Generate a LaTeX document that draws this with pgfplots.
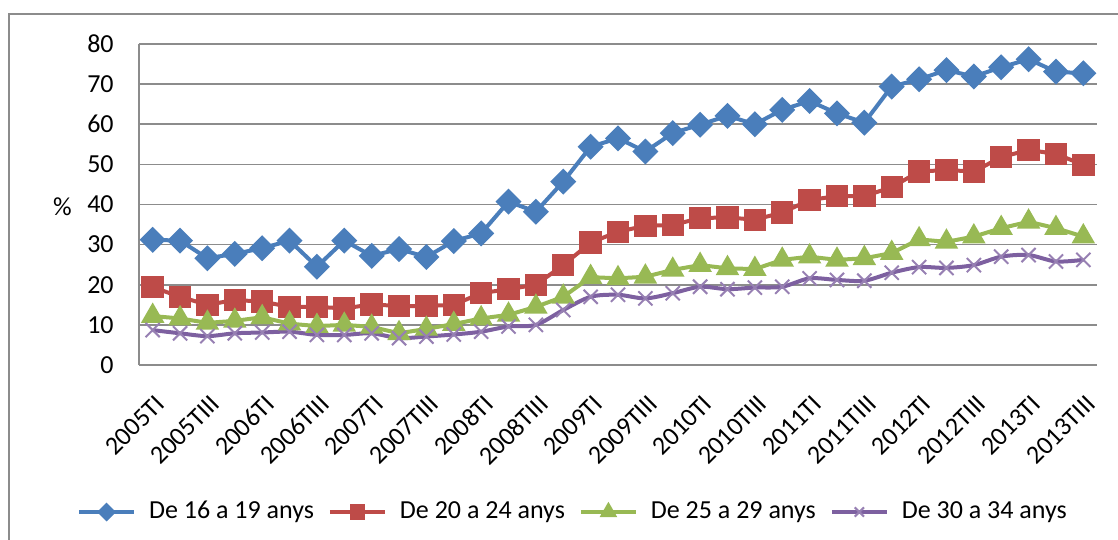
\documentclass[border=0pt]{standalone}
\usepackage{fontspec}
\setmainfont{Carlito}
\usepackage{pgfplots}
\pgfplotsset{compat=1.18}
\usepackage{pgfplotstable}
\definecolor{cblue}{HTML}{4A7EBB}
\definecolor{cred}{HTML}{BE4B48}
\definecolor{cgreen}{HTML}{98B954}
\definecolor{cpurple}{HTML}{7D60A0}
\definecolor{cgrid}{HTML}{8C8C8C}
\pgfplotstableread{
i a b c d
0 31.2 19.4 12.2 8.7
1 31.0 17.0 11.6 7.9
2 26.6 15.0 10.5 7.2
3 27.7 16.2 11.0 7.9
4 29.1 15.8 11.9 8.1
5 31.0 14.5 10.3 8.3
6 24.5 14.5 9.7 7.5
7 31.0 14.1 10.0 7.5
8 27.2 15.1 9.5 7.9
9 28.9 14.7 7.9 6.7
10 26.9 14.7 9.0 7.1
11 30.9 15.0 10.2 7.6
12 32.8 17.9 11.6 8.3
13 40.7 18.9 12.5 9.6
14 38.2 20.0 14.5 10.0
15 45.7 24.9 17.0 13.7
16 54.4 30.5 21.9 17.0
17 56.5 33.2 21.6 17.5
18 53.2 34.7 22.0 16.6
19 57.8 34.9 23.7 17.9
20 59.9 36.6 24.9 19.5
21 62.1 36.8 24.1 18.9
22 60.0 36.2 23.9 19.3
23 63.6 38.0 26.2 19.5
24 65.8 41.1 27.0 21.6
25 62.7 42.1 26.2 21.2
26 60.4 42.1 26.6 21.0
27 69.4 44.3 27.9 23.0
28 71.2 48.2 31.3 24.4
29 73.5 48.6 30.7 24.2
30 71.9 48.2 32.0 24.9
31 74.2 51.8 34.1 27.0
32 76.2 53.6 35.7 27.4
33 73.1 52.6 34.1 25.8
34 72.7 49.9 32.0 26.2
}\data
\begin{document}
\fontsize{13}{15}\selectfont
\begin{tikzpicture}
\useasboundingbox (-69.5pt,-87.5pt) rectangle (489.5pt,182.5pt);
\draw[cgrid, line width=1pt] (-65pt,-120pt) rectangle (520pt,175.5pt);
\begin{axis}[
  at={(0,0)}, anchor=south west,
  scale only axis, width=479pt, height=160.5pt,
  xmin=-0.5, xmax=34.5, ymin=0, ymax=80,
  ytick={0,10,...,80},
  xtick={0,2,...,34},
  xticklabels={2005TI,2005TIII,2006TI,2006TIII,2007TI,2007TIII,2008TI,2008TIII,2009TI,2009TIII,2010TI,2010TIII,2011TI,2011TIII,2012TI,2012TIII,2013TI,2013TIII},
  xticklabel style={xshift=7pt, yshift=-12pt, rotate=45, anchor=east, font=\fontsize{13}{15}\selectfont},
  yticklabel style={font=\fontsize{13}{15}\selectfont, xshift=-6pt},
  /pgf/number format/assume math mode=true,
  axis x line=bottom, axis y line=left,
  axis line style={-, cgrid, line width=0.8pt},
  ymajorgrids, grid style={cgrid, line width=0.8pt},
  tick style={draw=none},
  ylabel={\%},
  ylabel style={rotate=-90, at={(axis description cs:-0.080,0.492)}, anchor=center, font=\fontsize{13}{15}\selectfont},
  clip=false,
  legend columns=4,
  legend style={at={(axis description cs:0.454,-0.458)}, anchor=center, draw=none, fill=none,
    font=\fontsize{13}{15}\selectfont,
    /tikz/every odd column/.append style={column sep=4.5pt},
    /tikz/every even column/.append style={column sep=5pt}},
  legend image code/.code={\draw[mark repeat=2, mark phase=2, #1, every mark/.append style={scale=0.65}] plot coordinates {(0pt,0pt) (13.75pt,0pt) (27.5pt,0pt)};},
]
\addplot[cblue, line width=2pt, mark=square*, mark size=3.6pt, mark options={rotate=45, solid}] table[x=i, y=a] {\data};
\addlegendentry{De 16 a 19 anys}
\addplot[cred, line width=2pt, mark=square*, mark size=4.6pt, mark options={solid}] table[x=i, y=b] {\data};
\addlegendentry{De 20 a 24 anys}
\addplot[cgreen, line width=2pt, mark=triangle*, mark size=4.8pt, mark options={solid}] table[x=i, y=c] {\data};
\addlegendentry{De 25 a 29 anys}
\addplot[cpurple, line width=2pt, smooth, mark=x, mark size=5pt, mark options={solid, line width=1pt, color=cpurple!80}] table[x=i, y=d] {\data};
\addlegendentry{De 30 a 34 anys}
\end{axis}
\end{tikzpicture}
\end{document}
